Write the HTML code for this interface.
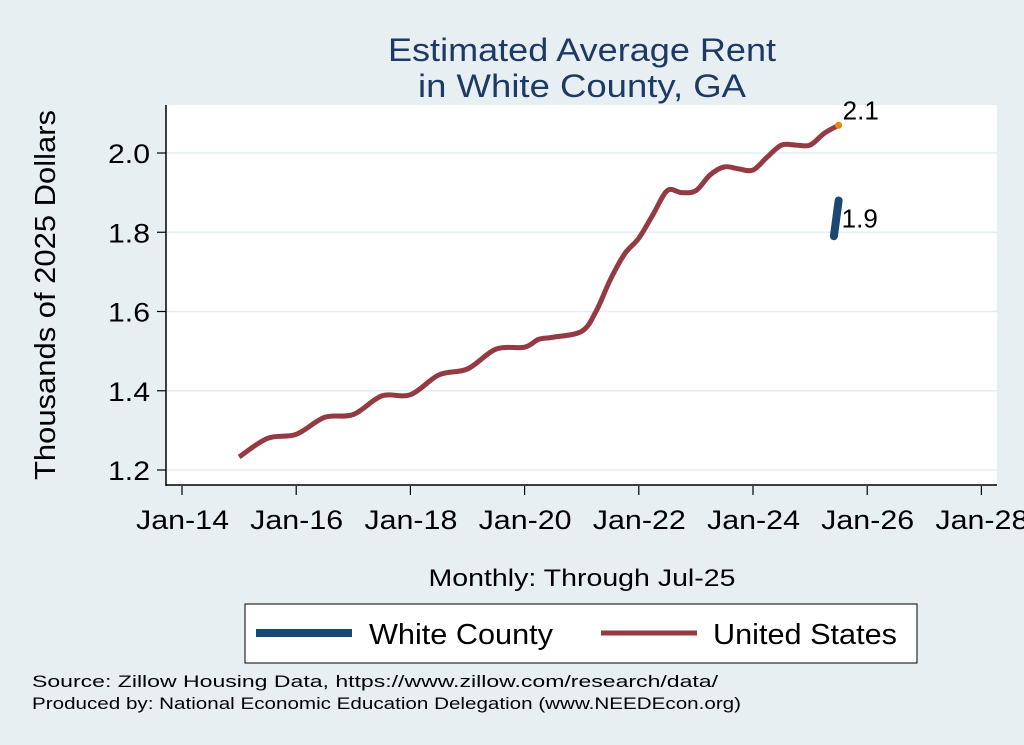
<!DOCTYPE html>
<html><head><meta charset="utf-8"><style>
body{margin:0;background:#e8eff3;}
svg{display:block;font-family:"Liberation Sans",Arial,sans-serif;}
</style></head><body>
<svg width="1024" height="745" viewBox="0 0 1024 745">
<rect x="0" y="0" width="1024" height="745" fill="#e8eff3"/>
<text x="582" y="61" font-size="32" fill="#1c3a63" text-anchor="middle" textLength="388" lengthAdjust="spacingAndGlyphs">Estimated Average Rent</text>
<text x="582" y="97" font-size="32" fill="#1c3a63" text-anchor="middle" textLength="328" lengthAdjust="spacingAndGlyphs">in White County, GA</text>
<rect x="166" y="105" width="831" height="380" fill="#fff"/>
<g id="grid"></g>
<line x1="166" y1="105" x2="166" y2="486" stroke="#000" stroke-width="1.5"/>
<line x1="166" y1="485" x2="997" y2="485" stroke="#000" stroke-width="1.5"/>
<g id="ticks"></g>
<text transform="translate(55,295) rotate(-90)" font-size="29" text-anchor="middle" textLength="370" lengthAdjust="spacingAndGlyphs">Thousands of 2025 Dollars</text>
<text x="582" y="586" font-size="24" text-anchor="middle" textLength="307" lengthAdjust="spacingAndGlyphs">Monthly: Through Jul-25</text>
<g id="series"></g>
<g>
<rect x="245" y="604" width="672" height="59" fill="#fff" stroke="#000" stroke-width="1"/>
<line x1="256" y1="633" x2="352" y2="633" stroke="#1a4871" stroke-width="8"/>
<text x="369" y="644" font-size="29" textLength="184" lengthAdjust="spacingAndGlyphs">White County</text>
<line x1="601" y1="633" x2="697" y2="633" stroke="#943a42" stroke-width="5"/>
<text x="713" y="644" font-size="29" textLength="184" lengthAdjust="spacingAndGlyphs">United States</text>
</g>
<text x="32" y="687" font-size="17" textLength="686" lengthAdjust="spacingAndGlyphs">Source: Zillow Housing Data, https://www.zillow.com/research/data/</text>
<text x="32" y="709" font-size="17" textLength="709" lengthAdjust="spacingAndGlyphs">Produced by: National Economic Education Delegation (www.NEEDEcon.org)</text>
</svg>
<script>
const yTicks=[1.2,1.4,1.6,1.8,2.0];
const yTickLabels=["1.2","1.4","1.6","1.8","2.0"];
const xTickYears=[2014,2016,2018,2020,2022,2024,2026,2028];
const xTickLabels=["Jan-14","Jan-16","Jan-18","Jan-20","Jan-22","Jan-24","Jan-26","Jan-28"];
const usDates=["2015-01","2015-07","2016-01","2016-07","2017-01","2017-07","2018-01","2018-07","2019-01","2019-07","2020-01","2020-04","2020-07","2021-01","2021-04","2021-07","2021-10","2022-01","2022-04","2022-07","2022-10","2023-01","2023-04","2023-07","2023-10","2024-01","2024-04","2024-07","2024-10","2025-01","2025-04","2025-07"];
const usValues=[1.233,1.28,1.29,1.333,1.34,1.387,1.39,1.44,1.455,1.505,1.51,1.53,1.535,1.55,1.6,1.68,1.745,1.785,1.845,1.905,1.90,1.905,1.945,1.965,1.96,1.957,1.99,2.02,2.02,2.02,2.05,2.07];
const wcDates=["2025-06","2025-07"];
const wcValues=[1.79,1.88];
const NS="http://www.w3.org/2000/svg";
function xS(d){const [y,m]=d.split("-").map(Number);const months=(y-2014)*12+(m-1);return 182+months*(114.2/24);}
function yS(v){return 470-(v-1.2)*(317/0.8);}
function mk(tag,attrs,parent){const e=document.createElementNS(NS,tag);for(const k in attrs)e.setAttribute(k,attrs[k]);parent.appendChild(e);return e;}
const grid=document.getElementById("grid"),ticks=document.getElementById("ticks"),series=document.getElementById("series");
yTicks.forEach((v,i)=>{
 const g=mk("line",{x1:166,x2:997,y1:yS(v),y2:yS(v),stroke:"#e3eef2","stroke-width":1.5},grid);
 
 
 const t=mk("line",{x1:157,x2:166,y1:yS(v),y2:yS(v),stroke:"#000","stroke-width":1.2},ticks);
 
 
 const l=mk("text",{x:108,y:yS(v)+10,"font-size":27,textLength:42,lengthAdjust:"spacingAndGlyphs"},ticks);
 l.textContent=yTickLabels[i];
 
 
});
xTickYears.forEach((yr,i)=>{
 const x=xS(yr+"-01");
 const t=mk("line",{x1:x,x2:x,y1:486,y2:495,stroke:"#000","stroke-width":1.2},ticks);
 
 
 const l=mk("text",{x:x-46,y:529,"font-size":27,textLength:93,lengthAdjust:"spacingAndGlyphs"},ticks);
 l.textContent=xTickLabels[i];
 
 
});
function smooth(pts){let d="M"+pts[0][0]+","+pts[0][1];
 for(let i=0;i<pts.length-1;i++){const p0=pts[Math.max(0,i-1)],p1=pts[i],p2=pts[i+1],p3=pts[Math.min(pts.length-1,i+2)];
 d+=" C"+(p1[0]+(p2[0]-p0[0])/6)+","+(p1[1]+(p2[1]-p0[1])/6)+" "+(p2[0]-(p3[0]-p1[0])/6)+","+(p2[1]-(p3[1]-p1[1])/6)+" "+p2[0]+","+p2[1];}
 return d;}
const usPts=usDates.map((d,i)=>[xS(d),yS(usValues[i])]);
const us=mk("path",{d:smooth(usPts),fill:"none",stroke:"#943a42","stroke-width":5,"stroke-linecap":"butt"},series);


const last=usPts[usPts.length-1];
const dot=mk("circle",{cx:last[0],cy:last[1],r:3.5,fill:"#e8890c"},series);


const ul=mk("text",{x:last[0]+4,y:last[1]-6,"font-size":26},series);
ul.textContent=usValues[usValues.length-1].toFixed(1);


const wcPts=wcDates.map((d,i)=>[xS(d),yS(wcValues[i])]);
const wc=mk("path",{d:"M"+wcPts.map(p=>p.join(",")).join(" L"),fill:"none",stroke:"#1a4871","stroke-width":8,"stroke-linecap":"round"},series);


const wl=wcPts[wcPts.length-1];
const wt=mk("text",{x:wl[0]+3,y:yS((wcValues[0]+wcValues[1])/2)+9,"font-size":26},series);
wt.textContent=wcValues[wcValues.length-1].toFixed(1);


</script>
</body></html>
